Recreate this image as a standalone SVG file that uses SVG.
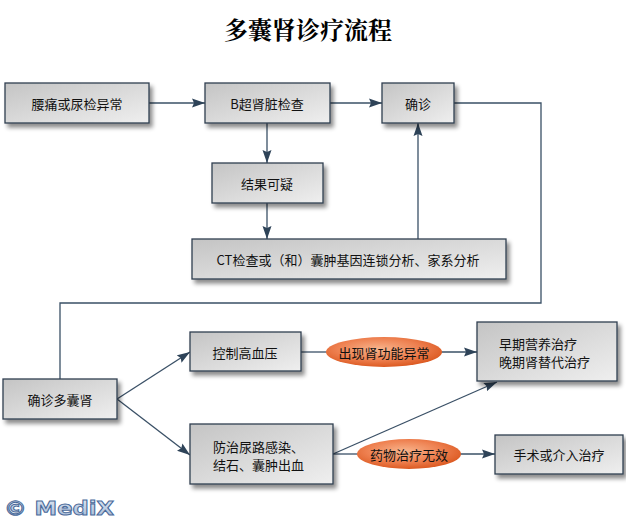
<svg xmlns="http://www.w3.org/2000/svg" width="626" height="520" viewBox="0 0 626 520">
<defs>
<linearGradient id="boxg" x1="0" y1="0" x2="1" y2="1">
<stop offset="0" stop-color="#c4c4c4"/>
<stop offset="1" stop-color="#efefef"/>
</linearGradient>
<radialGradient id="ovg" cx="0.45" cy="0.4" r="0.6">
<stop offset="0" stop-color="#f8b48c"/>
<stop offset="0.6" stop-color="#ee8050"/>
<stop offset="1" stop-color="#dc5a22"/>
</radialGradient>
<linearGradient id="wmg" x1="0" y1="0" x2="0" y2="1">
<stop offset="0" stop-color="#e4ecf6"/>
<stop offset="1" stop-color="#9fb4d2"/>
</linearGradient>
<filter id="sh" x="-10%" y="-10%" width="130%" height="150%">
<feDropShadow dx="3" dy="4" stdDeviation="2" flood-color="#000" flood-opacity="0.45"/>
</filter>
<marker id="ah" markerUnits="userSpaceOnUse" markerWidth="14" markerHeight="10" refX="13" refY="5" orient="auto">
<path d="M0,0.5 L13,5 L0,9.5 L2,5 Z" fill="#2e4358"/>
</marker>
</defs>
<style>
.box{fill:url(#boxg);stroke:#2e3f50;stroke-width:1.3;filter:url(#sh)}
.t{font-family:"Noto Sans CJK SC","Liberation Sans",sans-serif;font-size:13px;fill:#111}
.c{text-anchor:middle;dominant-baseline:central}
.ln{fill:none;stroke:#3a5066;stroke-width:1.3}
.ov{fill:url(#ovg);stroke:none}
</style>
<rect width="626" height="520" fill="#fff"/>
<text x="308" y="39" font-family="'Noto Serif CJK SC','Noto Sans CJK SC',serif" font-weight="bold" font-size="24" text-anchor="middle" fill="#000">多囊肾诊疗流程</text>

<g id="connectors">
<path class="ln" d="M149,103 H205" marker-end="url(#ah)"/>
<path class="ln" d="M330,103 H382" marker-end="url(#ah)"/>
<path class="ln" d="M267,123 V163" marker-end="url(#ah)"/>
<path class="ln" d="M267,203 V239" marker-end="url(#ah)"/>
<path class="ln" d="M418,239 V123" marker-end="url(#ah)"/>
<path class="ln" d="M454,103 H541 V303 H60 V379"/>
<path class="ln" d="M117,399 L190,352" marker-end="url(#ah)"/>
<path class="ln" d="M117,399 L190,455" marker-end="url(#ah)"/>
<path class="ln" d="M301,352 H330"/>
<path class="ln" d="M440,352 H477" marker-end="url(#ah)"/>
<path class="ln" d="M333,454 L497,382" marker-end="url(#ah)"/>
<path class="ln" d="M333,454 H360"/>
<path class="ln" d="M460,454 H495" marker-end="url(#ah)"/>
</g>

<g id="n1"><rect class="box" x="5" y="83" width="144" height="40"/><text class="t c" x="77" y="103">腰痛或尿检异常</text></g>
<g id="n2"><rect class="box" x="205" y="83" width="125" height="40"/><text class="t c" x="267" y="103">B超肾脏检查</text></g>
<g id="n3"><rect class="box" x="382" y="83" width="72" height="40"/><text class="t c" x="418" y="103">确诊</text></g>
<g id="n4"><rect class="box" x="212" y="163" width="111" height="40"/><text class="t c" x="267" y="183">结果可疑</text></g>
<g id="n5"><rect class="box" x="192" y="239" width="314" height="40"/><text class="t c" x="348" y="259">CT检查或（和）囊肿基因连锁分析、家系分析</text></g>
<g id="n6"><rect class="box" x="3" y="379" width="114" height="40"/><text class="t c" x="60" y="399">确诊多囊肾</text></g>
<g id="n7"><rect class="box" x="190" y="332" width="111" height="39"/><text class="t c" x="245" y="352">控制高血压</text></g>
<g id="n8"><rect class="box" x="190" y="424" width="143" height="60"/><text class="t" x="213" y="446" dominant-baseline="central">防治尿路感染、</text><text class="t" x="213" y="464" dominant-baseline="central">结石、囊肿出血</text></g>
<g id="n9"><rect class="box" x="477" y="322" width="140" height="59"/><text class="t" x="499" y="343" dominant-baseline="central">早期营养治疗</text><text class="t" x="499" y="361" dominant-baseline="central">晚期肾替代治疗</text></g>
<g id="n10"><rect class="box" x="495" y="435" width="128" height="39"/><text class="t c" x="559" y="454">手术或介入治疗</text></g>
<g id="o1"><ellipse class="ov" cx="384" cy="352" rx="58" ry="15"/><text class="t c" x="384" y="352">出现肾功能异常</text></g>
<g id="o2"><ellipse class="ov" cx="409" cy="454" rx="52" ry="15"/><text class="t c" x="409" y="454">药物治疗无效</text></g>

<text x="4" y="515" font-family="'DejaVu Sans',sans-serif" font-weight="bold" font-size="20" textLength="110" lengthAdjust="spacingAndGlyphs" fill="url(#wmg)" stroke="#4a6a9a" stroke-width="1">© MediX</text>
</svg>
